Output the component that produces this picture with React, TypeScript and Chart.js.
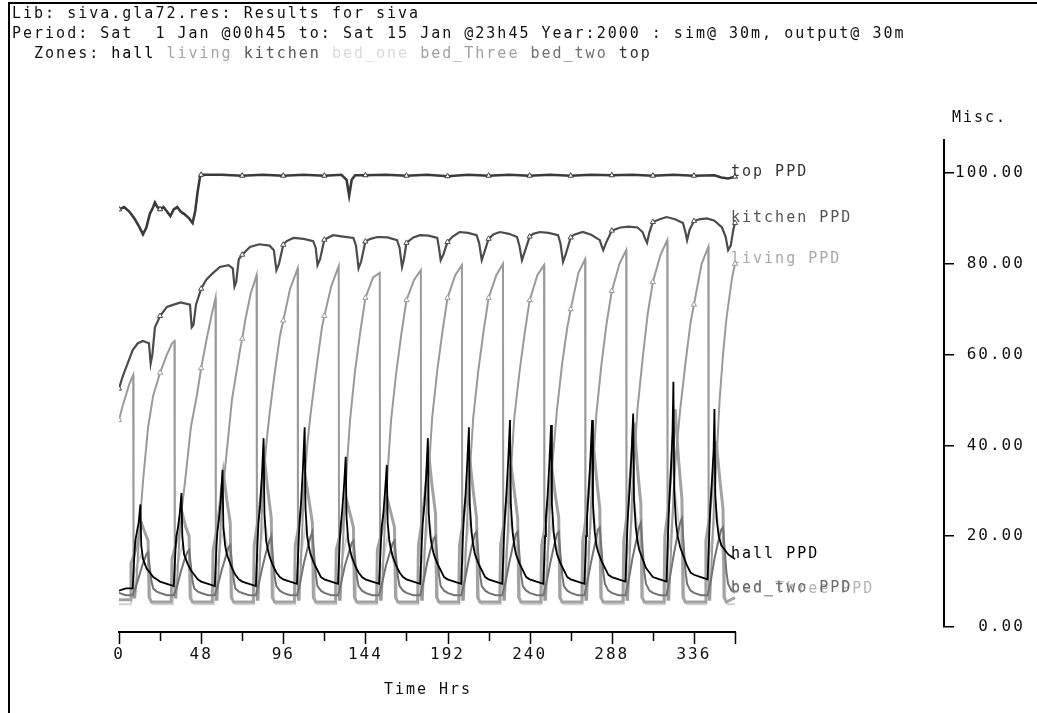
import React, { useEffect, useRef } from "react";
import { Chart, registerables } from "chart.js";

Chart.register(...registerables);

const W = 1037;
const H = 713;
const MONO = '"DejaVu Sans Mono", "Liberation Mono", monospace';

// ---- text ----
const headerLine1 = "Lib: siva.gla72.res: Results for siva";
const headerLine2 = "Period: Sat  1 Jan @00h45 to: Sat 15 Jan @23h45 Year:2000 : sim@ 30m, output@ 30m";
const zonePrefix = "  Zones: ";
const zoneNames = ["hall", "living", "kitchen", "bed_one", "bed_Three", "bed_two", "top"];
const zoneColors = ["#000000", "#a4a4a4", "#555555", "#dadada", "#a0a0a0", "#707070", "#303030"];
const yAxisTitle = "Misc.";
const xAxisTitle = "Time Hrs";

// ---- axes ----
const xTickValues = [0, 24, 48, 72, 96, 120, 144, 168, 192, 216, 240, 264, 288, 312, 336, 360];
const xTickLabels = ["0", "", "48", "", "96", "", "144", "", "192", "", "240", "", "288", "", "336", ""];
const yTickValues = [0, 20, 40, 60, 80, 100];

// ---- series: [hour, PPD] ----
const topPts = [
  [0, 92], [3, 92.5], [6, 91.5], [9, 90], [12, 88], [14, 86.5], [16, 88], [18, 91], [20, 92.5], [21, 93.5], [22.5, 92.5],
  [24, 92], [26, 92.5], [28, 91.5], [30, 90.5], [32, 92], [34, 92.5], [36, 91.5], [38, 91], [41, 90], [43, 89], [44.5, 91.5],
  [46, 96], [47.5, 99.5], [48, 99.6], [60, 99.6], [72, 99.4], [84, 99.6], [96, 99.4], [108, 99.6], [120, 99.4], [130, 99.6],
  [133, 98.5], [134.5, 95], [136, 98.5], [138, 99.5], [144, 99.5], [156, 99.6], [168, 99.4], [180, 99.6], [192, 99.3],
  [204, 99.6], [216, 99.4], [228, 99.6], [240, 99.4], [252, 99.6], [264, 99.4], [276, 99.6], [288, 99.5], [300, 99.6],
  [312, 99.4], [324, 99.6], [336, 99.4], [348, 99.5], [352, 99.0], [356, 98.8], [360, 99.2],
];

const kitchenPts = [
  [0, 52.5], [2, 55], [4, 57], [6, 59], [8, 61], [11, 62.5], [14, 63], [17.5, 62.5], [18.5, 58], [19.5, 60], [21, 66],
  [24, 68.5], [28, 70.5], [32, 71], [36, 71.5], [41.5, 71], [42.5, 66], [43.5, 66.5], [45, 71], [48, 74.5], [51, 76.5],
  [55, 78], [59, 79.3], [64, 79.7], [66.5, 79], [67.5, 75], [68.5, 76], [70, 81], [72, 82], [76.5, 83.7], [82, 84.3],
  [88, 84], [90.5, 83], [92, 78.6], [93.5, 80], [96, 84.2], [98, 85], [102, 85.7], [108, 85.5], [113.5, 85], [115, 83.5],
  [116, 79.7], [117.5, 81], [120, 85.3], [125, 86.3], [131, 86], [137, 85.7], [138.5, 84], [140, 79], [141.5, 80.5],
  [144, 84.9], [147, 85.5], [151, 85.9], [157, 85.8], [162.5, 85.2], [164, 83.5], [165.4, 79.3], [166.5, 81], [168, 84.6],
  [172, 85.8], [176, 86.3], [181, 86.2], [186, 85.7], [187, 83.5], [188, 80.8], [189.5, 82], [192, 84.8], [195, 86],
  [199, 87], [204, 86.8], [209, 86.3], [210.5, 84.5], [212, 80.8], [213.5, 82.5], [216, 85.5], [219, 86.5], [222.7, 87],
  [228, 86.6], [232.6, 85.9], [234, 84], [235.5, 80.8], [237, 82.5], [240, 86], [242, 86.6], [246, 87], [251, 86.8],
  [256.6, 86.3], [258, 84.5], [259.5, 80.4], [261, 82], [264, 85.8], [266, 86.4], [271, 87], [276, 86.4], [281, 85.2],
  [282, 84], [283, 83], [284.5, 84.5], [288, 87.3], [293, 88], [298, 88.2], [303, 88], [306, 87], [307.5, 85.5],
  [308.6, 84.6], [310, 87], [312, 89.2], [316, 89.8], [320, 90.3], [325, 89.8], [329.6, 89], [331, 87], [332, 85.2],
  [333.5, 87.5], [336, 89.4], [339, 89.8], [343.6, 90], [348, 89.5], [352.4, 88], [354.5, 86], [356, 83], [357.5, 84],
  [359, 87.5], [360, 89],
];

const livingPts = [
  [0, 45.6], [2, 48.5], [4, 51], [6, 53.5], [8.3, 55.5], [8.5, 6.5],
  [9.5, 6.5], [10.5, 12], [12, 22], [14, 32], [17, 44], [20, 51], [24, 56], [28, 60], [31, 62.5], [32.4, 63], [32.6, 6.5],
  [33.5, 6.5], [34.5, 14], [36, 24], [38.6, 32], [42, 44], [45.5, 51], [48, 57], [51, 63], [54, 68.5], [56.4, 72.5], [56.6, 6],
  [57.5, 6], [58.5, 15], [60, 27], [62, 35], [66, 50], [70.7, 61], [72, 63.5], [74, 68], [77, 73.5], [80.4, 77.5], [80.6, 6],
  [81.5, 6], [82.5, 16], [84, 30], [86, 40], [88, 47], [91, 56], [94, 64], [96, 67.5], [100, 74.5], [104.4, 79], [104.6, 6],
  [105.5, 6], [106.5, 16], [108, 30], [110, 40], [112, 47], [115, 56], [118.6, 66], [120, 68.5], [124, 75], [128.4, 79.5], [128.6, 6],
  [129.5, 6], [130.5, 15], [132, 28], [133.5, 37], [135, 45.5], [138, 56.5], [141, 65], [144, 72.5], [148.5, 77], [152.4, 78], [152.6, 6],
  [153.5, 6], [154.5, 15], [156, 28], [157.5, 37], [159, 45.5], [162, 56], [165, 64.5], [168, 72], [172.5, 76.5], [176.4, 78.6], [176.6, 6],
  [177.5, 6], [178.5, 15], [180, 28], [181.5, 37], [183, 46], [186, 56.5], [189, 65], [192, 72.5], [196.5, 77.5], [200.4, 79.7], [200.6, 6],
  [201.5, 6], [202.5, 15], [204, 28], [205.5, 37], [207, 46], [210, 56.5], [213, 65], [216, 72.5], [220.5, 77.5], [224.4, 80], [224.6, 6],
  [225.5, 6], [226.5, 15], [228, 28], [229.5, 37], [231, 46], [234, 56], [237, 64.5], [240, 72], [244.5, 77.5], [248.4, 79.7], [248.6, 6],
  [249.5, 6], [250.5, 15], [252, 28], [253.5, 37], [256, 48], [259, 58], [262, 66], [264, 70], [268.5, 78], [272.4, 81], [272.6, 6],
  [273.5, 6], [274.5, 15], [276, 28], [277.5, 38], [279, 47], [282, 58], [285, 67], [288, 74], [292.5, 80], [296.4, 83], [296.6, 6],
  [297.5, 6], [298.5, 16], [300, 30], [301.5, 39], [303, 48], [306, 59], [309, 69], [312, 76], [316.5, 82], [320.4, 85.2], [320.6, 6],
  [321.5, 6], [322.5, 16], [324, 29], [325.5, 38], [328, 48], [331, 58], [334, 67], [336, 71], [340.5, 80], [344.4, 83.7], [344.6, 6],
  [345.5, 6], [346.5, 16], [348, 29], [349.5, 39], [351, 50], [353, 60], [355, 68], [358.3, 77], [360, 80],
];

const hallPts = [
  [0, 8], [4, 8.5], [8, 8.5], [9, 16], [9.5, 19], [10.5, 21], [11.5, 23], [12.5, 27], [13, 18], [14, 15], [15, 14], [16, 13], [18, 12], [20, 11], [22, 10.5],
  [24, 10], [28, 9.5], [32, 9], [33, 17], [33.5, 20], [34.5, 22], [35.5, 25], [36.5, 29.5], [37, 20], [38, 16], [39, 15], [40, 14], [42, 12.5], [44, 11.5], [46, 10.5],
  [48, 10], [52, 9.5], [56, 9], [57, 18], [57.5, 21], [58.5, 24], [59.5, 28], [60.5, 34.6], [61, 22], [62, 18], [63, 16], [64, 15], [66, 13], [68, 11.5], [70, 10.5],
  [72, 10], [76, 9.5], [80, 9], [81, 19], [81.5, 23], [82.5, 27], [83.5, 33], [84.5, 41.6], [85, 25], [86, 19], [87, 17], [88, 15.5], [90, 13.5], [92, 12], [94, 11],
  [96, 10.5], [100, 10], [104, 9.5], [105, 19], [105.5, 23], [106.5, 28], [107.5, 35], [108.5, 44], [109, 26], [110, 20], [111, 17.5], [112, 16], [114, 14], [116, 12.5], [118, 11],
  [120, 10.5], [124, 10], [128, 9.5], [129, 19], [129.5, 22], [130.5, 26], [131.5, 31], [132.5, 37.5], [133, 24], [134, 19], [135, 17], [136, 15.5], [138, 13.5], [140, 12], [142, 11],
  [144, 10.5], [148, 10], [152, 9.5], [153, 18], [153.5, 22], [154.5, 25], [155.5, 30], [156.5, 35.7], [157, 23], [158, 19], [159, 17], [160, 15.5], [162, 13.5], [164, 12], [166, 11],
  [168, 10.5], [172, 10], [176, 9.5], [177, 19], [177.5, 23], [178.5, 27], [179.5, 33], [180.5, 41.6], [181, 25], [182, 20], [183, 17.5], [184, 16], [186, 14], [188, 12.5], [190, 11],
  [192, 10.5], [196, 10], [200, 9.5], [201, 20], [201.5, 24], [202.5, 29], [203.5, 36], [204.5, 44], [205, 27], [206, 21], [207, 18], [208, 16], [210, 14], [212, 12.5], [214, 11],
  [216, 10.5], [220, 10], [224, 9.5], [225, 20], [225.5, 24], [226.5, 30], [227.5, 37], [228.5, 45.6], [229, 27], [230, 21], [231, 18], [232, 16], [234, 14], [236, 12.5], [238, 11],
  [240, 10.5], [244, 10], [248, 9.5], [249, 20], [249.5, 24], [250.5, 29], [251.5, 36], [252.5, 44.5], [253, 27], [254, 21], [255, 18], [256, 16], [258, 14], [260, 12.5], [262, 11],
  [264, 10.5], [268, 10], [272, 9.5], [273, 20], [273.5, 24], [274.5, 30], [275.5, 37], [276.5, 45.6], [277, 27], [278, 21], [279, 18], [280, 16.5], [282, 14.5], [284, 13], [286, 11.5],
  [288, 11], [292, 10.5], [296, 10], [297, 21], [297.5, 25], [298.5, 31], [299.5, 38], [300.5, 47], [301, 28], [302, 22], [303, 19], [304, 17], [306, 15], [308, 13], [310, 12],
  [312, 11], [316, 10.5], [320, 10], [321, 22], [321.5, 27], [322.5, 34], [323.5, 43], [324, 54], [324.5, 30], [325.5, 23], [326.5, 20], [328, 17.5], [330, 15.5], [332, 13.5], [334, 12],
  [336, 11.5], [340, 11], [344, 10.5], [345, 21], [345.5, 26], [346.5, 32], [347.5, 39], [348, 48], [348.5, 29], [349.5, 23], [350.5, 20], [352, 18], [354, 17], [356, 16], [358, 15.5], [360, 15],
];

const bedThreePts = [
  [0, 6], [6.5, 6], [7, 14], [9, 16], [11, 19], [13, 23], [15, 21], [17, 19], [17.6, 6.5], [19, 5.5],
  [24, 5.5], [30.5, 5.5], [31, 15], [33, 18], [35, 21], [37, 25], [39, 22], [41, 20], [41.6, 6.5], [43, 5.5],
  [48, 5.5], [54.5, 5.5], [55, 17], [57, 21], [59, 27], [61, 34], [63, 28], [65, 23], [65.6, 6.5], [67, 5.5],
  [72, 5.5], [78.5, 5.5], [79, 18], [81, 23], [83, 29], [85, 37], [87, 30], [89, 24], [89.6, 6.5], [91, 5.5],
  [96, 5.5], [102.5, 5.5], [103, 18], [105, 22], [107, 27], [109, 33], [111, 28], [113, 23], [113.6, 6.5], [115, 5.5],
  [120, 5.5], [126.5, 5.5], [127, 17], [129, 20], [131, 24], [133, 28], [135, 25], [137, 22], [137.6, 6.5], [139, 5.5],
  [144, 5.5], [150.5, 5.5], [151, 17], [153, 20], [155, 24], [157, 28], [159, 25], [161, 22], [161.6, 6.5], [163, 5.5],
  [168, 5.5], [174.5, 5.5], [175, 18], [177, 23], [179, 30], [181, 38], [183, 31], [185, 25], [185.6, 6.5], [187, 5.5],
  [192, 5.5], [198.5, 5.5], [199, 18], [201, 23], [203, 29], [205, 37], [207, 30], [209, 24], [209.6, 6.5], [211, 5.5],
  [216, 5.5], [222.5, 5.5], [223, 18], [225, 23], [227, 29], [229, 36], [231, 30], [233, 24], [233.6, 6.5], [235, 5.5],
  [240, 5.5], [246.5, 5.5], [247, 18], [249, 22], [251, 28], [253, 35], [255, 29], [257, 24], [257.6, 6.5], [259, 5.5],
  [264, 5.5], [270.5, 5.5], [271, 19], [273, 24], [275, 32], [277, 41], [279, 33], [281, 26], [281.6, 6.5], [283, 5.5],
  [288, 5.5], [294.5, 5.5], [295, 19], [297, 25], [299, 34], [301, 45], [303, 35], [305, 27], [305.6, 6.5], [307, 5.5],
  [312, 5.5], [318.5, 5.5], [319, 20], [321, 26], [323, 36], [325, 48], [327, 37], [329, 28], [329.6, 6.5], [331, 5.5],
  [336, 5.5], [342.5, 5.5], [343, 19], [345, 24], [347, 32], [349, 41], [351, 33], [353, 26], [353.6, 6.5], [355, 5.5], [360, 6.5],
];

const bedTwoPts = [
  [0, 7.5], [4, 7], [8, 7], [10, 9], [12, 11.5], [14, 14], [16, 16], [17, 16.5], [18, 13], [19, 10], [20, 8.5], [22, 7.8],
  [24, 7.5], [28, 7], [32, 7], [34, 9], [36, 12], [38, 14.5], [40, 16.5], [41, 17], [42, 13.5], [43, 10], [44, 8.5], [46, 7.8],
  [48, 7.5], [52, 7], [56, 7], [58, 9.5], [60, 12.5], [62, 15], [64, 17.5], [65, 18], [66, 14], [67, 10.5], [68, 8.5], [70, 7.8],
  [72, 7.5], [76, 7], [80, 7], [82, 10], [84, 13.5], [86, 16.5], [88, 19], [89, 20], [90, 15], [91, 11], [92, 9], [94, 8],
  [96, 7.5], [100, 7], [104, 7], [106, 10], [108, 14], [110, 17], [112, 20], [113, 21], [114, 16], [115, 11.5], [116, 9], [118, 8],
  [120, 7.5], [124, 7], [128, 7], [130, 10], [132, 13.5], [134, 16], [136, 18.5], [137, 19], [138, 15], [139, 11], [140, 9], [142, 8],
  [144, 7.5], [148, 7], [152, 7], [154, 10], [156, 13.5], [158, 16], [160, 18.5], [161, 19], [162, 15], [163, 11], [164, 9], [166, 8],
  [168, 7.5], [172, 7], [176, 7], [178, 10], [180, 14], [182, 17], [184, 19.5], [185, 20], [186, 15.5], [187, 11.5], [188, 9], [190, 8],
  [192, 7.5], [196, 7], [200, 7], [202, 10], [204, 14], [206, 17.5], [208, 20.5], [209, 21], [210, 16], [211, 11.5], [212, 9], [214, 8],
  [216, 7.5], [220, 7], [224, 7], [226, 10], [228, 14], [230, 17.5], [232, 20.5], [233, 21], [234, 16], [235, 11.5], [236, 9], [238, 8],
  [240, 7.5], [244, 7], [248, 7], [250, 10], [252, 14], [254, 17.5], [256, 20.5], [257, 21], [258, 16], [259, 11.5], [260, 9], [262, 8],
  [264, 7.5], [268, 7], [272, 7], [274, 10.5], [276, 14.5], [278, 18], [280, 21.5], [281, 22], [282, 17], [283, 12], [284, 9.5], [286, 8],
  [288, 7.5], [292, 7], [296, 7], [298, 10.5], [300, 15], [302, 18.5], [304, 22], [305, 23], [306, 17.5], [307, 12], [308, 9.5], [310, 8],
  [312, 7.5], [316, 7], [320, 7], [322, 11], [324, 15.5], [326, 19.5], [328, 23], [329, 24], [330, 18], [331, 12.5], [332, 9.5], [334, 8],
  [336, 7.5], [340, 7], [344, 7], [346, 10.5], [348, 15], [350, 18.5], [352, 21.5], [353, 22], [354, 17], [355, 12], [356, 9.5], [358, 8], [360, 7.5],
];

const bedOnePts = [
  [0, 5], [7, 5], [7.5, 10], [10, 13], [13, 16], [16, 13], [18, 11], [18.5, 5.5], [20, 5],
  [24, 5], [31, 5], [31.5, 11], [34, 13.5], [37, 18], [40, 14], [42, 11.5], [42.5, 5.5], [44, 5],
  [48, 5], [55, 5], [55.5, 11], [58, 15], [61, 22], [64, 16], [66, 12], [66.5, 5.5], [68, 5],
  [72, 5], [79, 5], [79.5, 12], [82, 16], [85, 24], [88, 17], [90, 12.5], [90.5, 5.5], [92, 5],
  [96, 5], [103, 5], [103.5, 12], [106, 15], [109, 22], [112, 16], [114, 12], [114.5, 5.5], [116, 5],
  [120, 5], [127, 5], [127.5, 11], [130, 14], [133, 20], [136, 15], [138, 12], [138.5, 5.5], [140, 5],
  [144, 5], [151, 5], [151.5, 11], [154, 14], [157, 20], [160, 15], [162, 12], [162.5, 5.5], [164, 5],
  [168, 5], [175, 5], [175.5, 12], [178, 16], [181, 24], [184, 17], [186, 12.5], [186.5, 5.5], [188, 5],
  [192, 5], [199, 5], [199.5, 12], [202, 16], [205, 24], [208, 17], [210, 12.5], [210.5, 5.5], [212, 5],
  [216, 5], [223, 5], [223.5, 12], [226, 16], [229, 24], [232, 17], [234, 12.5], [234.5, 5.5], [236, 5],
  [240, 5], [247, 5], [247.5, 12], [250, 15.5], [253, 23], [256, 16.5], [258, 12.5], [258.5, 5.5], [260, 5],
  [264, 5], [271, 5], [271.5, 12], [274, 17], [277, 26], [280, 18], [282, 13], [282.5, 5.5], [284, 5],
  [288, 5], [295, 5], [295.5, 13], [298, 18], [301, 28], [304, 19], [306, 13.5], [306.5, 5.5], [308, 5],
  [312, 5], [319, 5], [319.5, 13], [322, 19], [325, 30], [328, 20], [330, 14], [330.5, 5.5], [332, 5],
  [336, 5], [343, 5], [343.5, 13], [346, 18], [349, 26], [352, 18], [354, 13], [354.5, 5.5], [356, 5], [360, 5],
];

// drawing order: first = on top
const seriesList = [
  { name: "hall", label: "hall PPD", pts: hallPts, color: "#000000", width: 1.8, labelColor: "#000000", markers: false, dy: 0 },
  { name: "bed_two", label: "bed_two PPD", pts: bedTwoPts, color: "#737373", width: 2, labelColor: "#6a6a6a", markers: false, dy: 0 },
  { name: "living", label: "living PPD", pts: livingPts, color: "#9a9a9a", width: 2, labelColor: "#a8a8a8", markers: true, dy: 0 },
  { name: "bed_Three", label: "bed_Three PPD", pts: bedThreePts, color: "#a2a2a2", width: 3, labelColor: "#b4b4b4", markers: false, dy: -3 },
  { name: "kitchen", label: "kitchen PPD", pts: kitchenPts, color: "#4c4c4c", width: 2.2, labelColor: "#555555", markers: true, dy: 0 },
  { name: "top", label: "top PPD", pts: topPts, color: "#3a3a3a", width: 2.6, labelColor: "#333333", markers: true, dy: 0 },
  { name: "bed_one", label: "", pts: bedOnePts, color: "#d2d2d2", width: 2, labelColor: "#e6e6e6", markers: false, dy: -1 },
];
const labelDrawOrder = ["bed_Three", "bed_two", "hall", "living", "kitchen", "top"];

// layout geometry
const PLOT_LEFT = 119;
const PLOT_RIGHT_DATA = 735; // pixel of hour 360
const AXIS_X = 944; // right y axis line
const AXIS_TOP = 140;
const ZERO_Y = 627;
const PX_PER_HOUR = (PLOT_RIGHT_DATA - PLOT_LEFT) / 360;
const PX_PER_UNIT = 4.54;
const X_MAX = (AXIS_X - PLOT_LEFT) / PX_PER_HOUR;
const Y_MAX = (ZERO_Y - AXIS_TOP) / PX_PER_UNIT;

const esprPlugin = {
  id: "esprDecor",
  beforeDraw(chart: any) {
    const ctx = chart.ctx;
    ctx.save();
    ctx.fillStyle = "#ffffff";
    ctx.fillRect(0, 0, chart.width, chart.height);
    ctx.restore();
    ctx.letterSpacing = "2px";
  },
  afterDraw(chart: any) {
    const ctx = chart.ctx;
    const xs = chart.scales.x;
    ctx.save();
    ctx.letterSpacing = "2px";
    // frame
    ctx.strokeStyle = "#000";
    ctx.lineWidth = 2;
    ctx.beginPath();
    ctx.moveTo(9, H);
    ctx.lineTo(9, 3);
    ctx.lineTo(W, 3);
    ctx.stroke();

    // header
    ctx.font = `15px ${MONO}`;
    ctx.textAlign = "left";
    ctx.textBaseline = "alphabetic";
    ctx.fillStyle = "#111";
    ctx.fillText(headerLine1, 12, 18);
    ctx.fillText(headerLine2, 12, 38);
    ctx.fillText(zonePrefix, 12, 58);
    let acc = zonePrefix;
    zoneNames.forEach((z, i) => {
      const x = 12 + ctx.measureText(acc).width;
      ctx.fillStyle = zoneColors[i];
      ctx.fillText(z, x, 58);
      acc += z + " ";
    });

    // y axis title
    ctx.fillStyle = "#111";
    ctx.textBaseline = "middle";
    ctx.fillText(yAxisTitle, 952, 118);

    // x axis line + ticks
    const y0 = chart.chartArea.bottom + 5;
    ctx.strokeStyle = "#000";
    ctx.lineWidth = 2;
    ctx.beginPath();
    ctx.moveTo(xs.getPixelForValue(xTickValues[0]) - 1, y0);
    ctx.lineTo(xs.getPixelForValue(xTickValues[xTickValues.length - 1]) + 1, y0);
    ctx.stroke();
    ctx.lineWidth = 1.5;
    xTickValues.forEach((v, i) => {
      const px = Math.round(xs.getPixelForValue(v)) + 0.5;
      const len = xTickLabels[i] !== "" || i === xTickValues.length - 1 ? 12 : 9;
      ctx.beginPath();
      ctx.moveTo(px, y0);
      ctx.lineTo(px, y0 + len);
      ctx.stroke();
    });

    // x axis title
    ctx.textAlign = "center";
    ctx.fillStyle = "#111";
    ctx.fillText(xAxisTitle, 428, 690);

    // series end labels
    ctx.textAlign = "left";
    labelDrawOrder.forEach((nm) => {
      const idx = seriesList.findIndex((s) => s.name === nm);
      const meta = chart.getDatasetMeta(idx);
      const last = meta.data[meta.data.length - 1];
      if (!last || !seriesList[idx].label) return;
      ctx.fillStyle = seriesList[idx].labelColor;
      ctx.fillText(seriesList[idx].label, 731, last.y - 5 + seriesList[idx].dy);
    });
    ctx.restore();
  },
};

export default function App() {
  const ref = useRef<HTMLCanvasElement | null>(null);
  useEffect(() => {
    if (!ref.current) return;
    const chart = new Chart(ref.current, {
      type: "line",
      data: {
        datasets: seriesList.map((s) => ({
          label: s.name,
          data: s.pts.map(([x, y]) => ({ x, y })),
          borderColor: s.color,
          borderWidth: s.width,
          backgroundColor: "#ffffff",
          fill: false,
          tension: 0,
          pointStyle: "triangle",
          pointRadius: (c: any) => (s.markers && c.raw && c.raw.x % 24 === 0 ? 3 : 0),
          pointBorderColor: s.color,
          pointBackgroundColor: "#ffffff",
          pointBorderWidth: 1,
          pointHoverRadius: 0,
        })),
      },
      options: {
        responsive: false,
        animation: false,
        devicePixelRatio: 1,
        events: [],
        layout: { padding: { left: PLOT_LEFT, top: AXIS_TOP, right: 0, bottom: 0 } },
        plugins: {
          legend: { display: false },
          tooltip: { enabled: false },
          title: { display: false },
        },
        scales: {
          x: {
            type: "linear",
            position: "bottom",
            min: 0,
            max: X_MAX,
            afterBuildTicks: (s: any) => {
              s.ticks = xTickValues.map((v) => ({ value: v }));
            },
            afterFit: (s: any) => {
              s.height = H - ZERO_Y;
            },
            grid: { display: false },
            border: { display: false },
            ticks: {
              autoSkip: false,
              maxRotation: 0,
              minRotation: 0,
              padding: 10,
              color: "#111",
              font: { family: MONO, size: 16 },
              callback: (v: any) => {
                const i = xTickValues.indexOf(Number(v));
                return i >= 0 ? xTickLabels[i] : "";
              },
            },
          },
          y: {
            type: "linear",
            position: "right",
            min: 0,
            max: Y_MAX,
            afterBuildTicks: (s: any) => {
              s.ticks = yTickValues.map((v) => ({ value: v }));
            },
            afterFit: (s: any) => {
              s.width = W - AXIS_X;
            },
            grid: { drawOnChartArea: false, drawTicks: true, tickLength: 10, color: "#000", lineWidth: 1.5 },
            border: { display: true, color: "#000", width: 2 },
            ticks: {
              padding: 1,
              color: "#111",
              font: { family: MONO, size: 16 },
              callback: (v: any) => Number(v).toFixed(2).padStart(6, " "),
            },
          },
        },
      } as any,
      plugins: [esprPlugin],
    });
    return () => chart.destroy();
  }, []);
  return (
    <div style={{ position: "fixed", left: 0, top: 0, width: W, height: H, background: "#fff" }}>
      <canvas ref={ref} width={W} height={H} style={{ display: "block", width: W, height: H }} />
    </div>
  );
}
